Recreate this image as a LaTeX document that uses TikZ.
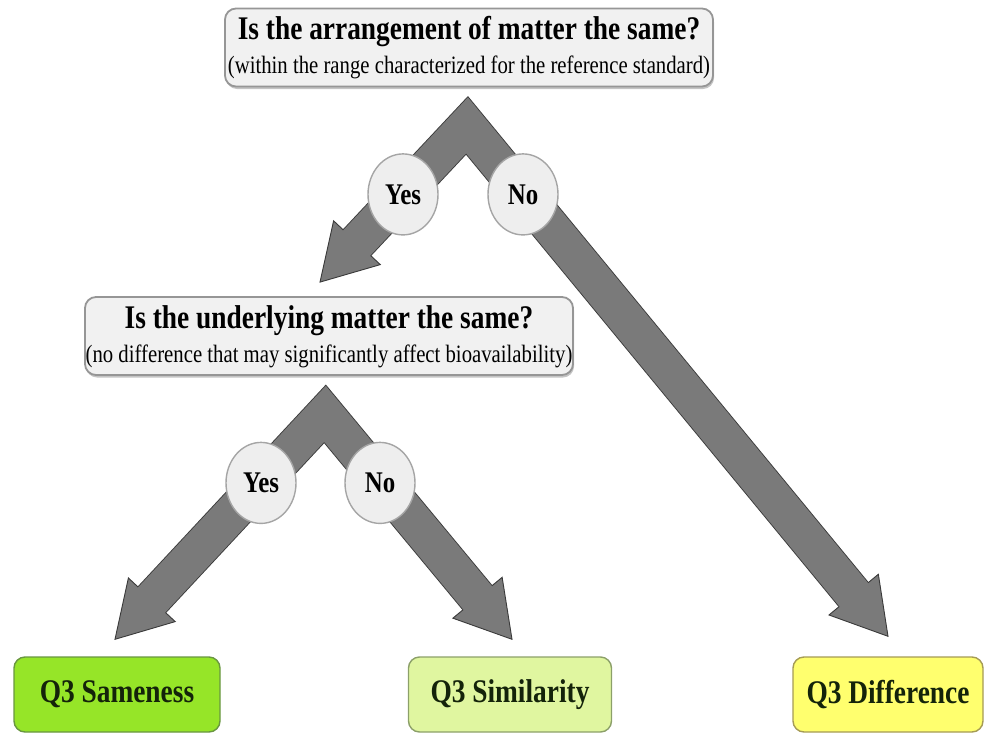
\documentclass[tikz,border=0pt]{standalone}
\usepackage{fontspec}
\setmainfont{Liberation Serif}[FakeStretch=0.83]
\usetikzlibrary{calc,shapes.geometric,shadows}

\definecolor{arrowfill}{RGB}{122,122,122}
\definecolor{arrowrim}{RGB}{58,58,58}
\definecolor{qfill}{RGB}{241,241,241}
\definecolor{qline}{RGB}{150,150,150}
\definecolor{qshade}{RGB}{196,196,196}
\definecolor{pillfill}{RGB}{238,238,238}
\definecolor{pillline}{RGB}{165,165,165}
\definecolor{samefill}{RGB}{150,229,40}
\definecolor{sameline}{RGB}{105,150,65}
\definecolor{simfill}{RGB}{224,246,160}
\definecolor{simline}{RGB}{140,160,105}
\definecolor{difffill}{RGB}{255,255,110}
\definecolor{diffline}{RGB}{165,155,85}
\definecolor{restext}{RGB}{20,35,10}

% A forked block arrow: #1 = junction on the centre line, #2 and #3 = the two tips.
\newcommand{\forkarrow}[3]{%
  % dark rim of the shaft
  \draw[draw=arrowrim, line width=38.8pt, line join=miter]
    ($(#2)!53pt!(#1)$) -- (#1) -- ($(#3)!53pt!(#1)$);
  % the two heads
  \foreach \tipname in {#2,#3}{
    \coordinate (headbase) at ($(\tipname)!54pt!(#1)$);
    \filldraw[fill=arrowfill, draw=arrowrim, line width=0.9pt, line join=miter]
      ($(headbase)!32pt!90:(\tipname)$) -- (\tipname)
      -- ($(headbase)!32pt!-90:(\tipname)$) -- cycle;
  }
  % grey body of the shaft, running a little into the heads
  \draw[draw=arrowfill, line width=37pt, line join=miter]
    ($(#2)!51pt!(#1)$) -- (#1) -- ($(#3)!51pt!(#1)$);
}

\begin{document}
\begin{tikzpicture}[x=1pt,y=-1pt,
  question/.style={draw=qline, fill=qfill, line width=1.8pt, rounded corners=11pt,
    minimum width=488pt, minimum height=78pt, inner sep=0pt,
    drop shadow={shadow xshift=1pt, shadow yshift=-2.5pt, fill=qshade, opacity=1}},
  qtitle/.style={anchor=base, inner sep=0pt, font=\fontsize{33}{36}\selectfont\bfseries},
  qnote/.style={anchor=base, inner sep=0pt, font=\fontsize{25}{28}\selectfont},
  pill/.style={ellipse, draw=pillline, fill=pillfill, line width=1.4pt,
    minimum width=70pt, minimum height=81pt, inner sep=0pt,
    font=\fontsize{30}{32}\selectfont\bfseries},
  result/.style={rounded corners=11pt, line width=1.4pt, minimum height=75pt,
    inner sep=0pt, text=restext, font=\fontsize{33}{36}\selectfont\bfseries},
]
\useasboundingbox (0,0) rectangle (986,734);

% question boxes
\node[question] (q1) at (469,47.5) {};
\node[qtitle] (q1t) at ($(q1.north)+(0,32)$) {Is the arrangement of matter the same?};
\node[qnote] (q1n) at ($(q1.north)+(0,66)$) {(within the range characterized for the reference standard)};

\node[question] (q2) at (329,336) {};
\node[qtitle] (q2t) at ($(q2.north)+(0,32)$) {Is the underlying matter the same?};
\node[qnote] (q2n) at ($(q2.north)+(0,66)$) {(no difference that may significantly affect bioavailability)};

% outcome boxes
\node[result, draw=sameline, fill=samefill, minimum width=206pt] (r1) at (117,694.5) {Q3 Sameness};
\node[result, draw=simline, fill=simfill, minimum width=203pt] (r2) at (510,694.5) {Q3 Similarity};
\node[result, draw=diffline, fill=difffill, minimum width=190pt] (r3) at (888,694.5) {Q3 Difference};

% junctions and tips of the forked arrows
\coordinate (c1) at ($(q1.south)+(-2,38)$);
\coordinate (t1l) at ($(q2.north)+(-9,-14)$);
\coordinate (t1r) at ($(r3.north)+(0,-20)$);
\coordinate (c2) at ($(q2.south)+(-4,38)$);
\coordinate (t2l) at ($(r1.north)+(-2,-17)$);
\coordinate (t2r) at ($(r2.north)+(2,-17)$);

\forkarrow{c1}{t1l}{t1r}
\forkarrow{c2}{t2l}{t2r}

% answer labels on the arrows
\node[pill] (y1) at ($(c1)+(-64,69)$) {Yes};
\node[pill] (n1) at ($(c1)+(56,69)$) {No};
\node[pill] (y2) at ($(c2)+(-64,69)$) {Yes};
\node[pill] (n2) at ($(c2)+(55,69)$) {No};
\end{tikzpicture}
\end{document}
